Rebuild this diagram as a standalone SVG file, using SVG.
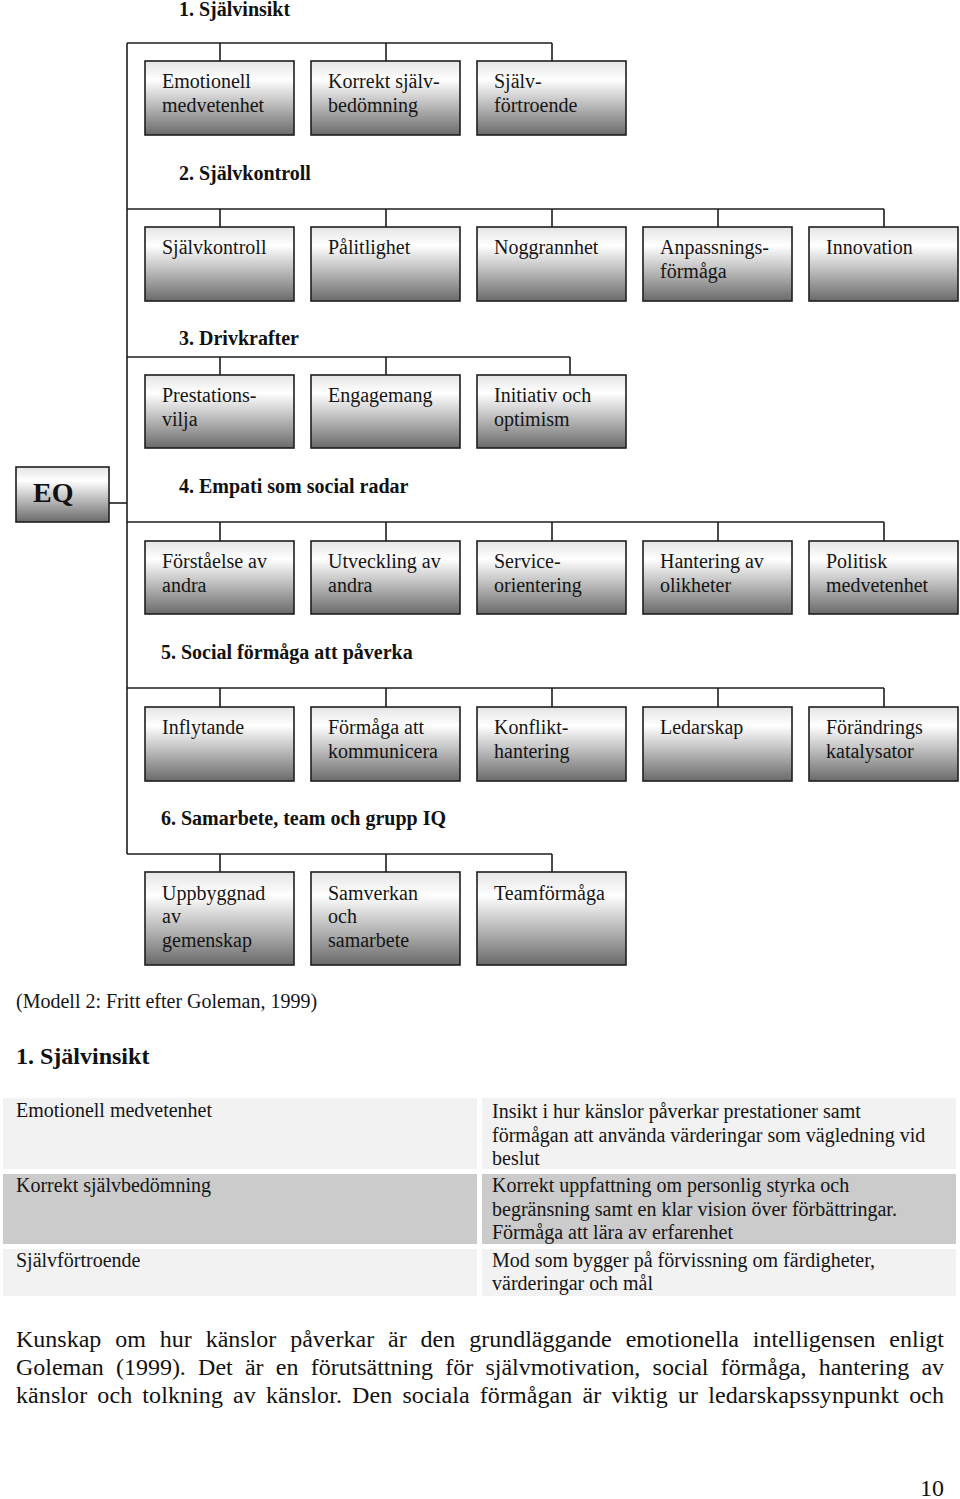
<svg xmlns="http://www.w3.org/2000/svg" width="960" height="1499" viewBox="0 0 960 1499">
<defs>
<linearGradient id="g" x1="0" y1="0" x2="0" y2="1">
<stop offset="0" stop-color="#e4e4e4"/>
<stop offset="0.25" stop-color="#ffffff"/>
<stop offset="0.55" stop-color="#c4c4c4"/>
<stop offset="1" stop-color="#6a6a6a"/>
</linearGradient>
<style>
.box{fill:url(#g);stroke:#1e1e1e;stroke-width:1.6}
.t{font-family:"Liberation Serif","Times New Roman",serif;font-size:20px;fill:#151515}
.h{font-family:"Liberation Serif","Times New Roman",serif;font-size:20px;font-weight:bold;fill:#111}
.c{fill:none;stroke:#1e1e1e;stroke-width:1.6}
.p{font-family:"Liberation Serif","Times New Roman",serif;font-size:24px;fill:#111}
</style>
</defs>
<rect width="960" height="1499" fill="#ffffff"/>

<g id="connectors" class="c">
<path d="M127 43V854"/>
<path d="M109 503H127"/>
<path d="M127 43H552M220 43V61M386 43V61M552 43V61"/>
<path d="M127 209H884M220 209V227M386 209V227M552 209V227M718 209V227M884 209V227"/>
<path d="M127 357H570M220 357V375M386 357V375M570 357V375"/>
<path d="M127 522H884M220 522V541M386 522V541M552 522V541M718 522V541M884 522V541"/>
<path d="M127 688H884M220 688V707M386 688V707M552 688V707M718 688V707M884 688V707"/>
<path d="M127 854H552M220 854V872M386 854V872M552 854V872"/>
</g>

<g id="headings">
<text class="h" x="179" y="16">1. Självinsikt</text>
<text class="h" x="179" y="180">2. Självkontroll</text>
<text class="h" x="179" y="345">3. Drivkrafter</text>
<text class="h" x="179" y="493">4. Empati som social radar</text>
<text class="h" x="161" y="659">5. Social förmåga att påverka</text>
<text class="h" x="161" y="825">6. Samarbete, team och grupp IQ</text>
</g>

<g id="eq"><rect class="box" x="16" y="467" width="93" height="55"/><text x="33" y="502" font-family="Liberation Serif, serif" font-size="28" font-weight="bold" fill="#111">EQ</text></g>

<g id="n1a"><rect class="box" x="145" y="61" width="149" height="74"/><text class="t" x="162" y="88">Emotionell</text><text class="t" x="162" y="112">medvetenhet</text></g>
<g id="n1b"><rect class="box" x="311" y="61" width="149" height="74"/><text class="t" x="328" y="88">Korrekt själv-</text><text class="t" x="328" y="112">bedömning</text></g>
<g id="n1c"><rect class="box" x="477" y="61" width="149" height="74"/><text class="t" x="494" y="88">Själv-</text><text class="t" x="494" y="112">förtroende</text></g>

<g id="n2a"><rect class="box" x="145" y="227" width="149" height="74"/><text class="t" x="162" y="254">Självkontroll</text></g>
<g id="n2b"><rect class="box" x="311" y="227" width="149" height="74"/><text class="t" x="328" y="254">Pålitlighet</text></g>
<g id="n2c"><rect class="box" x="477" y="227" width="149" height="74"/><text class="t" x="494" y="254">Noggrannhet</text></g>
<g id="n2d"><rect class="box" x="643" y="227" width="149" height="74"/><text class="t" x="660" y="254">Anpassnings-</text><text class="t" x="660" y="278">förmåga</text></g>
<g id="n2e"><rect class="box" x="809" y="227" width="149" height="74"/><text class="t" x="826" y="254">Innovation</text></g>

<g id="n3a"><rect class="box" x="145" y="375" width="149" height="73"/><text class="t" x="162" y="402">Prestations-</text><text class="t" x="162" y="426">vilja</text></g>
<g id="n3b"><rect class="box" x="311" y="375" width="149" height="73"/><text class="t" x="328" y="402">Engagemang</text></g>
<g id="n3c"><rect class="box" x="477" y="375" width="149" height="73"/><text class="t" x="494" y="402">Initiativ och</text><text class="t" x="494" y="426">optimism</text></g>

<g id="n4a"><rect class="box" x="145" y="541" width="149" height="73"/><text class="t" x="162" y="568">Förståelse av</text><text class="t" x="162" y="592">andra</text></g>
<g id="n4b"><rect class="box" x="311" y="541" width="149" height="73"/><text class="t" x="328" y="568">Utveckling av</text><text class="t" x="328" y="592">andra</text></g>
<g id="n4c"><rect class="box" x="477" y="541" width="149" height="73"/><text class="t" x="494" y="568">Service-</text><text class="t" x="494" y="592">orientering</text></g>
<g id="n4d"><rect class="box" x="643" y="541" width="149" height="73"/><text class="t" x="660" y="568">Hantering av</text><text class="t" x="660" y="592">olikheter</text></g>
<g id="n4e"><rect class="box" x="809" y="541" width="149" height="73"/><text class="t" x="826" y="568">Politisk</text><text class="t" x="826" y="592">medvetenhet</text></g>

<g id="n5a"><rect class="box" x="145" y="707" width="149" height="74"/><text class="t" x="162" y="734">Inflytande</text></g>
<g id="n5b"><rect class="box" x="311" y="707" width="149" height="74"/><text class="t" x="328" y="734">Förmåga att</text><text class="t" x="328" y="758">kommunicera</text></g>
<g id="n5c"><rect class="box" x="477" y="707" width="149" height="74"/><text class="t" x="494" y="734">Konflikt-</text><text class="t" x="494" y="758">hantering</text></g>
<g id="n5d"><rect class="box" x="643" y="707" width="149" height="74"/><text class="t" x="660" y="734">Ledarskap</text></g>
<g id="n5e"><rect class="box" x="809" y="707" width="149" height="74"/><text class="t" x="826" y="734">Förändrings</text><text class="t" x="826" y="758">katalysator</text></g>

<g id="n6a"><rect class="box" x="145" y="872" width="149" height="93"/><text class="t" x="162" y="900">Uppbyggnad</text><text class="t" x="162" y="923">av</text><text class="t" x="162" y="947">gemenskap</text></g>
<g id="n6b"><rect class="box" x="311" y="872" width="149" height="93"/><text class="t" x="328" y="900">Samverkan</text><text class="t" x="328" y="923">och</text><text class="t" x="328" y="947">samarbete</text></g>
<g id="n6c"><rect class="box" x="477" y="872" width="149" height="93"/><text class="t" x="494" y="900">Teamförmåga</text></g>

<text class="t" x="16" y="1008">(Modell 2: Fritt efter Goleman, 1999)</text>

<g id="table">
<text x="16" y="1064" font-family="Liberation Serif, serif" font-size="24" font-weight="bold" fill="#111">1. Självinsikt</text>
<rect x="3" y="1098" width="474" height="71" fill="#f2f2f2"/>
<rect x="482" y="1098" width="474" height="71" fill="#f2f2f2"/>
<rect x="3" y="1174" width="474" height="70" fill="#cbcbcb"/>
<rect x="482" y="1174" width="474" height="70" fill="#cbcbcb"/>
<rect x="3" y="1249" width="474" height="47" fill="#f2f2f2"/>
<rect x="482" y="1249" width="474" height="47" fill="#f2f2f2"/>
<text class="t" x="16" y="1117">Emotionell medvetenhet</text>
<text class="t" x="16" y="1192">Korrekt självbedömning</text>
<text class="t" x="16" y="1267">Självförtroende</text>
<text class="t" x="492" y="1118">Insikt i hur känslor påverkar prestationer samt</text>
<text class="t" x="492" y="1142">förmågan att använda värderingar som vägledning vid</text>
<text class="t" x="492" y="1165">beslut</text>
<text class="t" x="492" y="1192">Korrekt uppfattning om personlig styrka och</text>
<text class="t" x="492" y="1216">begränsning samt en klar vision över förbättringar.</text>
<text class="t" x="492" y="1239">Förmåga att lära av erfarenhet</text>
<text class="t" x="492" y="1267">Mod som bygger på förvissning om färdigheter,</text>
<text class="t" x="492" y="1290">värderingar och mål</text>
</g>

<g id="paragraph">
<text class="p" x="16" y="1347" word-spacing="7.9" textLength="928" lengthAdjust="spacing">Kunskap om hur känslor påverkar är den grundläggande emotionella intelligensen enligt</text>
<text class="p" x="16" y="1375" word-spacing="6.3" textLength="928" lengthAdjust="spacing">Goleman (1999). Det är en förutsättning för självmotivation, social förmåga, hantering av</text>
<text class="p" x="16" y="1403" word-spacing="4" textLength="928" lengthAdjust="spacing">känslor och tolkning av känslor. Den sociala förmågan är viktig ur ledarskapssynpunkt och</text>
<text class="p" x="944" y="1496" text-anchor="end">10</text>
</g>
</svg>
